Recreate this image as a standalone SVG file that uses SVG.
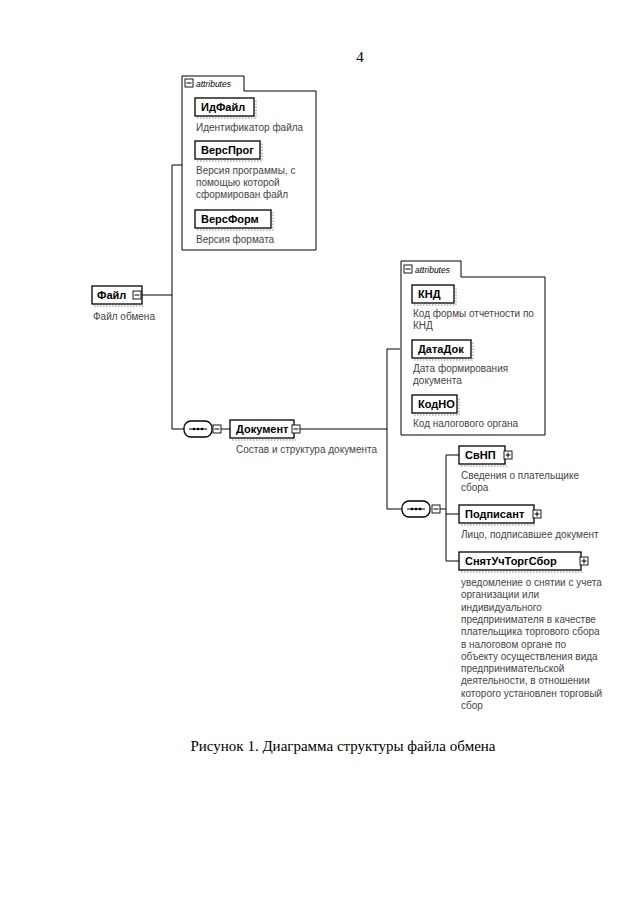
<svg xmlns="http://www.w3.org/2000/svg" width="640" height="905" viewBox="0 0 640 905">
<style>
.bg{fill:#ffffff}
.box{fill:#ffffff;stroke:#000;stroke-width:1.3}
.shadow{fill:none;stroke:#888;stroke-width:1;stroke-dasharray:1.5 1.5}
.frame{fill:none;stroke:#000;stroke-width:1}
.line{fill:none;stroke:#000;stroke-width:1}
.icon{fill:#fff;stroke:#000;stroke-width:0.9}
.name{font-family:"Liberation Sans",Arial,sans-serif;font-size:11px;font-weight:bold;fill:#000}
.desc{font-family:"Liberation Sans",Arial,sans-serif;font-size:10px;fill:#444}
.tab{font-family:"Liberation Sans",Arial,sans-serif;font-size:8.5px;font-style:italic;fill:#000}
.cap{font-family:"Liberation Serif","Times New Roman",serif;font-size:15px;fill:#000}
</style>
<defs>
<g id="minus"><rect class="icon" x="0" y="0" width="8" height="8"/><path class="line" d="M1.5,4H6.5"/></g>
<g id="plus"><rect class="icon" x="0" y="0" width="8" height="8"/><path class="line" d="M1.5,4H6.5M4,1.5V6.5"/></g>
<g id="seq"><rect class="box" x="0" y="0" width="28" height="16" rx="7"/><path class="line" d="M5,8H23"/><circle cx="10" cy="8" r="1.3"/><circle cx="14" cy="8" r="1.3"/><circle cx="18" cy="8" r="1.3"/></g>
</defs>
<rect class="bg" x="0" y="0" width="640" height="905"/>
<text x="360" y="62" class="cap" font-size="13" text-anchor="middle">4</text>

<g id="connectors">
<path class="line" d="M142,295H172"/>
<path class="line" d="M172,165V429"/>
<path class="line" d="M172,165H182"/>
<path class="line" d="M172,429H184"/>
<path class="line" d="M221,429H230"/>
<path class="line" d="M300,429H387"/>
<path class="line" d="M387,349V509"/>
<path class="line" d="M387,349H400"/>
<path class="line" d="M387,509H402"/>
<path class="line" d="M440,509H446"/>
<path class="line" d="M446,455V561"/>
<path class="line" d="M446,455H459"/>
<path class="line" d="M446,514H459"/>
<path class="line" d="M446,561H459"/>
</g>

<g id="attrs-file">
<path class="frame" d="M182,250V76H244V91H316V250Z"/>
<use href="#minus" x="185" y="79"/>
<text x="196" y="87" class="tab">attributes</text>
<g id="attr-IdFile">
<rect class="box" x="195" y="98" width="59" height="18"/>
<path class="shadow" d="M197,118H256V100"/>
<text x="201" y="111" class="name">ИдФайл</text>
<text x="196" y="131" class="desc">Идентификатор файла</text>
</g>
<g id="attr-VersProg">
<rect class="box" x="195" y="141" width="65" height="18"/>
<path class="shadow" d="M197,161H262V143"/>
<text x="201" y="154" class="name">ВерсПрог</text>
<text x="196" y="174" class="desc">Версия программы, с</text>
<text x="196" y="186" class="desc">помощью которой</text>
<text x="196" y="198" class="desc">сформирован файл</text>
</g>
<g id="attr-VersForm">
<rect class="box" x="195" y="210" width="76" height="18"/>
<path class="shadow" d="M197,230H273V212"/>
<text x="201" y="223" class="name">ВерсФорм</text>
<text x="196" y="243" class="desc">Версия формата</text>
</g>
</g>

<g id="node-File">
<rect class="box" x="92" y="286" width="50" height="18"/>
<path class="shadow" d="M94,306H144"/>
<text x="97" y="299" class="name">Файл</text>
<use href="#minus" x="133" y="291"/>
<text x="93" y="320" class="desc">Файл обмена</text>
</g>

<g id="seq-1">
<use href="#seq" x="184" y="421"/>
<use href="#minus" x="213" y="425"/>
</g>

<g id="node-Document">
<rect class="box" x="230" y="420" width="64" height="18"/>
<path class="shadow" d="M232,440H296"/>
<text x="236" y="433" class="name">Документ</text>
<use href="#minus" x="292" y="425"/>
<text x="236" y="453" class="desc">Состав и структура документа</text>
</g>

<g id="attrs-doc">
<path class="frame" d="M401,435V261H461V277H545V435Z"/>
<use href="#minus" x="404" y="265"/>
<text x="415" y="273" class="tab">attributes</text>
<g id="attr-KND">
<rect class="box" x="412" y="285" width="42" height="18"/>
<path class="shadow" d="M414,305H456V287"/>
<text x="418" y="298" class="name">КНД</text>
<text x="413" y="317" class="desc">Код формы отчетности по</text>
<text x="413" y="329" class="desc">КНД</text>
</g>
<g id="attr-DataDok">
<rect class="box" x="412" y="340" width="59" height="18"/>
<path class="shadow" d="M414,360H473V342"/>
<text x="418" y="353" class="name">ДатаДок</text>
<text x="413" y="372" class="desc">Дата формирования</text>
<text x="413" y="384" class="desc">документа</text>
</g>
<g id="attr-KodNO">
<rect class="box" x="412" y="395" width="45" height="18"/>
<path class="shadow" d="M414,415H459V397"/>
<text x="418" y="408" class="name">КодНО</text>
<text x="413" y="427" class="desc">Код налогового органа</text>
</g>
</g>

<g id="seq-2">
<use href="#seq" x="402" y="501"/>
<use href="#minus" x="432" y="505"/>
</g>

<g id="node-SvNP">
<rect class="box" x="459" y="446" width="46" height="18"/>
<path class="shadow" d="M461,466H507"/>
<text x="465" y="459" class="name">СвНП</text>
<use href="#plus" x="504" y="451"/>
<text x="461" y="479" class="desc">Сведения о плательщике</text>
<text x="461" y="491" class="desc">сбора</text>
</g>

<g id="node-Podpisant">
<rect class="box" x="459" y="505" width="75" height="18"/>
<path class="shadow" d="M461,525H536"/>
<text x="465" y="518" class="name">Подписант</text>
<use href="#plus" x="533" y="510"/>
<text x="461" y="538" class="desc">Лицо, подписавшее документ</text>
</g>

<g id="node-SnyatUchTorgSbor">
<rect class="box" x="459" y="552" width="122" height="18"/>
<path class="shadow" d="M461,572H583"/>
<text x="465" y="565" class="name">СнятУчТоргСбор</text>
<use href="#plus" x="580" y="557"/>
<text class="desc">
<tspan x="461" y="586">уведомление о снятии с учета</tspan>
<tspan x="461" y="598.3">организации или</tspan>
<tspan x="461" y="610.6">индивидуального</tspan>
<tspan x="461" y="622.9">предпринимателя в качестве</tspan>
<tspan x="461" y="635.2">плательщика торгового сбора</tspan>
<tspan x="461" y="647.5">в налоговом органе по</tspan>
<tspan x="461" y="659.8">объекту осуществления вида</tspan>
<tspan x="461" y="672.1">предпринимательской</tspan>
<tspan x="461" y="684.4">деятельности, в отношении</tspan>
<tspan x="461" y="696.7">которого установлен торговый</tspan>
<tspan x="461" y="709">сбор</tspan>
</text>
</g>

<text x="343" y="751" class="cap" text-anchor="middle">Рисунок 1. Диаграмма структуры файла обмена</text>
</svg>
